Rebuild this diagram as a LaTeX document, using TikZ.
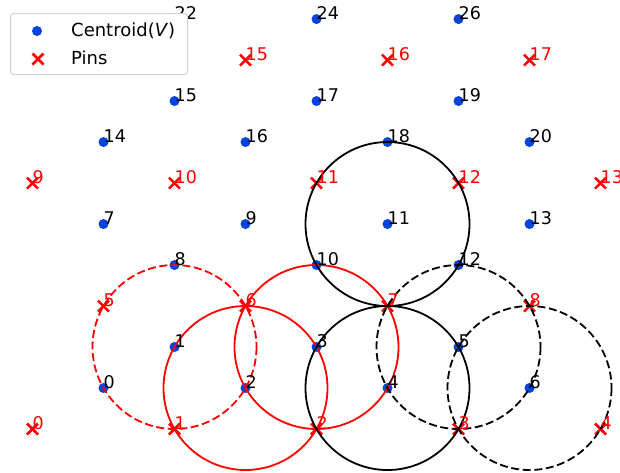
\documentclass[tikz,border=0pt]{standalone}
\usepackage{fontspec}
\setmainfont{DejaVu Sans}
\definecolor{cblue}{RGB}{3,67,223}
\newcommand\labfont{\fontsize{17.5}{21}\selectfont}
\newcommand\legfont{\fontsize{18}{22}\selectfont}
\tikzset{
  dot/.style={circle, fill=cblue, inner sep=0, minimum size=10},
  pinx/.style={draw=red, line width=2.5},
  clab/.style={anchor=base west, inner sep=0, font=\labfont, text=black},
  plab/.style={anchor=base west, inner sep=0, font=\labfont, text=red},
  cir/.style={line width=1.8},
  dashcir/.style={line width=1.8, dash pattern=on 8 off 3.6},
  legbox/.style={draw=black!18, line width=1, fill=white, rounded corners=3, anchor=north west, inner sep=0, minimum width=177, minimum height=61},
  legtext/.style={anchor=base west, inner sep=0, font=\legfont, text=black}
}
\begin{document}
\begin{tikzpicture}[x=1pt,y=-1pt]
\useasboundingbox (0,0) rectangle (620,472);
\clip (0,0) rectangle (620,472);
% centroids
\foreach \k in {0,...,3}{
  \foreach \j in {0,...,6}{
    \pgfmathtruncatemacro{\n}{7*\k+\j}
    \pgfmathtruncatemacro{\pp}{mod(\k+\j,2)}
    \pgfmathsetmacro{\cx}{32.5+71*(\j+1)}
    \pgfmathsetmacro{\cy}{429-122.976*\k-41*(1+\pp)}
    \pgfmathtruncatemacro{\vis}{(\k<3)||(\pp==0)}
    \ifnum\vis=1
      \node[dot] (c\n) at (\cx,\cy) {};
    \fi
  }
}
% pins
\foreach \r/\base/\cnt in {0/0/4, 1/5/3, 2/9/4, 3/14/3}{
  \foreach \i in {0,...,\cnt}{
    \pgfmathtruncatemacro{\n}{\base+\i}
    \pgfmathsetmacro{\px}{32.5+142*\i+71*mod(\r,2)}
    \pgfmathsetmacro{\py}{429-122.976*\r}
    \ifnum\n=14\relax\else
      \coordinate (p\n) at (\px,\py);
      \draw[pinx] (p\n) +(-5.5,-5.5) -- +(5.5,5.5) +(-5.5,5.5) -- +(5.5,-5.5);
    \fi
  }
}
% circumcircles
\draw[red, dashcir] (c1) circle[radius=82];
\draw[red, cir] (c2) circle[radius=82];
\draw[red, cir] (c3) circle[radius=82];
\draw[black, cir] (c11) circle[radius=82];
\draw[black, cir] (c4) circle[radius=82];
\draw[black, dashcir] (c5) circle[radius=82];
\draw[black, dashcir] (c6) circle[radius=82];
% labels
\foreach \n in {0,...,20}{ \node[clab] at (c\n) {\n}; }
\foreach \n in {22,24,26}{ \node[clab] at (c\n) {\n}; }
\foreach \n in {0,...,13}{ \node[plab] at (p\n) {\n}; }
\foreach \n in {15,16,17}{ \node[plab] at (p\n) {\n}; }
% legend
\node[legbox] (leg) at (10,13) {};
\node[dot] (ld) at (37,31) {};
\node[legtext] (lt1) at (71,36) {Centroid(\textit{V})};
\coordinate (lx) at (38,59);
\draw[pinx] (lx) +(-5.5,-5.5) -- +(5.5,5.5) +(-5.5,5.5) -- +(5.5,-5.5);
\node[legtext] (lt2) at (71,64) {Pins};
\end{tikzpicture}
\end{document}
